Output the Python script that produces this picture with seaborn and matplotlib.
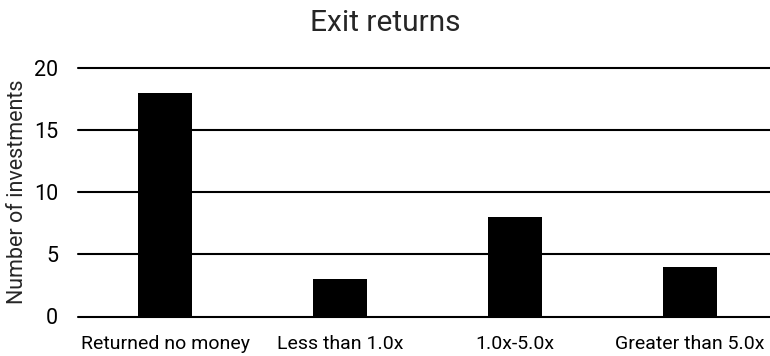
import matplotlib
matplotlib.use("Agg")
import matplotlib.pyplot as plt
import seaborn as sns
import pandas as pd

categories = ["Returned no money", "Less than 1.0x", "1.0x-5.0x", "Greater than 5.0x"]
investments = [18, 3, 8, 4]
y_ticks = [0, 5, 10, 15, 20]

sns.set_style("white")
plt.rcParams['font.family'] = ['Roboto', 'DejaVu Sans']

df = pd.DataFrame({'category': categories, 'count': investments})

fig = plt.figure(figsize=(7.7, 3.56), dpi=100)
ax = fig.add_axes([77.5 / 770, 39.5 / 356, 1 - 77.5 / 770, 248.5 / 356])

sns.barplot(data=df, x='category', y='count', color='black', width=0.31,
            saturation=1, edgecolor='black', linewidth=0, ax=ax, zorder=3)

ax.set_ylim(0, 20)
ax.set_yticks(y_ticks)
ax.set_xlim(-0.5, 3.457)
ax.yaxis.grid(True, color='black', linewidth=1.5, zorder=0)
for gl in ax.get_ygridlines():
    gl.set_clip_on(False)
ax.set_axisbelow(True)
for s in ax.spines.values():
    s.set_visible(False)

ax.tick_params(axis='y', length=0, labelsize=15.5, colors='black', pad=14)
ax.tick_params(axis='x', length=0, labelsize=14, colors='black', pad=13)
ax.set_xlabel('')
ax.set_ylabel('Number of investments', fontsize=15.5, labelpad=4)
fig.suptitle('Exit returns', fontsize=21.5, y=0.975)

fig.savefig('out.png', dpi=100)
